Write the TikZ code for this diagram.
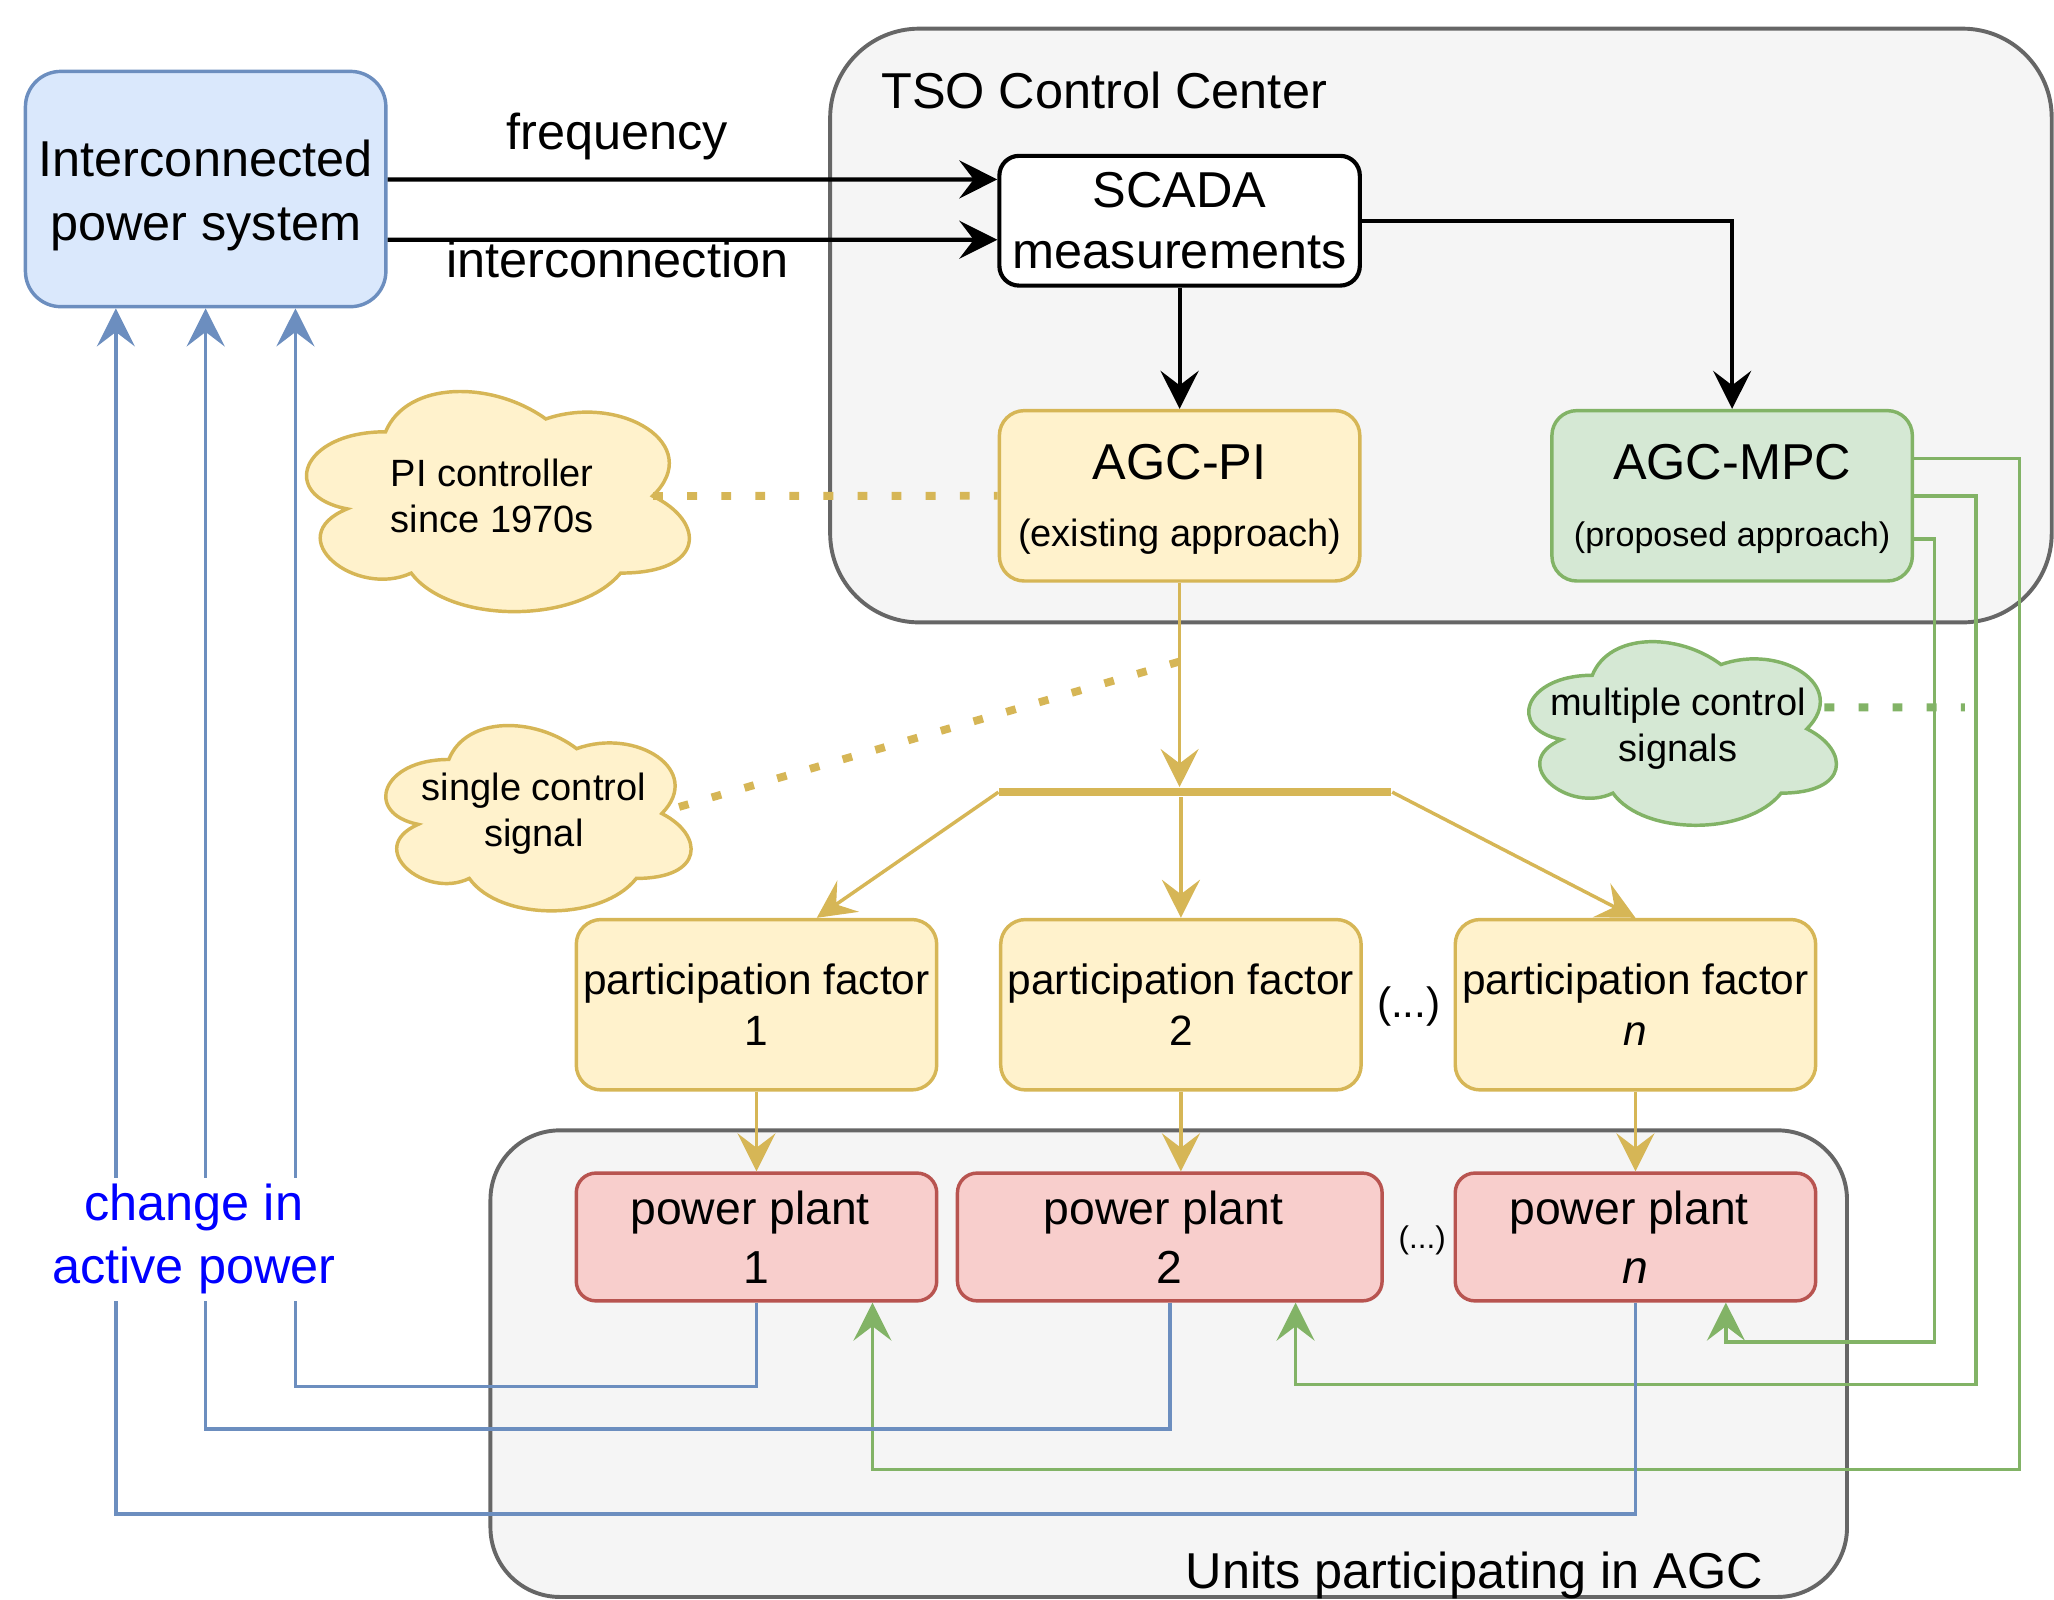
\documentclass[tikz,border=0pt]{standalone}
\usepackage{fontspec}
\setmainfont{Liberation Sans}
\usetikzlibrary{arrows.meta}

\definecolor{bluefill}{HTML}{DAE8FC}
\definecolor{blueline}{HTML}{6C8EBF}
\definecolor{yellowfill}{HTML}{FFF2CC}
\definecolor{yellowline}{HTML}{D6B656}
\definecolor{greenfill}{HTML}{D5E8D4}
\definecolor{greenline}{HTML}{82B366}
\definecolor{redfill}{HTML}{F8CECC}
\definecolor{redline}{HTML}{B85450}
\definecolor{grayfill}{HTML}{F5F5F5}
\definecolor{grayline}{HTML}{666666}
\definecolor{labelblue}{HTML}{0000FF}

\newcommand{\bigtext}{\fontsize{10.95}{13.4}\selectfont}
\newcommand{\pftext}{\fontsize{9.2}{10.95}\selectfont}
\newcommand{\pptext}{\fontsize{10.05}{12.8}\selectfont}
\newcommand{\cloudtext}{\fontsize{8.25}{9.9}\selectfont}
\newcommand{\mpctext}{\fontsize{7.4}{9}\selectfont}
\newcommand{\dotstext}{\fontsize{6.8}{8}\selectfont}

% cloud outline: left, top, width, height, colours
\newcommand{\cloudshape}[5]{%
  \draw[#5, line width=0.75pt, shift={(#1,#2)}, x=#3cm, y=-#4cm]
    (0.25,0.25) .. controls (0.05,0.25) and (0,0.5) .. (0.16,0.55)
    .. controls (0,0.66) and (0.18,0.9) .. (0.31,0.8)
    .. controls (0.4,1) and (0.7,1) .. (0.8,0.8)
    .. controls (1,0.8) and (1,0.6) .. (0.875,0.5)
    .. controls (1,0.3) and (0.8,0.1) .. (0.625,0.2)
    .. controls (0.5,0.05) and (0.3,0.05) .. (0.25,0.25) -- cycle;}

\begin{document}
\begin{tikzpicture}[x=0.01cm, y=-0.01cm]

\tikzset{box/.style = {shape=rectangle, draw, line width=0.75pt, rounded corners=0.19cm, minimum width=2.75cm, minimum height=1.3cm, align=center, inner sep=0pt}}
\tikzset{group/.style = {shape=rectangle, draw=grayline, fill=grayfill, line width=0.85pt}}
\tikzset{note/.style = {shape=rectangle, align=center, inner sep=0pt, font=\cloudtext}}
\tikzset{flow/.style = {line width=0.75pt, -{Stealth[length=0.29cm, width=0.29cm, inset=0.11cm]}}}
\tikzset{hint/.style = {line width=1.7pt, dash pattern=on 0.075cm off 0.185cm}}

\useasboundingbox (0,0) rectangle (1568,1221);

%groups
\node[group, minimum width=9.32cm, minimum height=4.53cm, rounded corners=0.68cm] (tso) at (1100,248.5) {};
\node[anchor=base west, inner sep=0pt, font=\bigtext] (tsolabel) at (672,83) {TSO Control Center};
\node[group, minimum width=10.35cm, minimum height=3.56cm, rounded corners=0.53cm] (units) at (892.2,1041) {};
\node[anchor=base west, inner sep=0pt, font=\bigtext] (unitslabel) at (904.5,1213) {Units participating in AGC};

%clouds
\cloudshape{212.8}{280.6}{3.26}{1.96}{fill=yellowfill, draw=yellowline}
\node[note, minimum width=3.26cm, minimum height=1.96cm] (pinote) at (375.8,378.6) {PI controller\\since 1970s};
\cloudshape{277.6}{538.5}{2.60}{1.65}{fill=yellowfill, draw=yellowline}
\node[note, minimum width=2.6cm, minimum height=1.65cm] (singlenote) at (407.6,621) {single control\\signal};
\cloudshape{1150}{474.6}{2.62}{1.635}{fill=greenfill, draw=greenline}
\node[note, minimum width=2.62cm, minimum height=1.635cm] (multinote) at (1281,556.4) {multiple control\\signals};

%blocks
\node[box, fill=bluefill, draw=blueline, minimum height=1.795cm, rounded corners=0.27cm, font=\fontsize{10.95}{13.9}\selectfont] (ips) at (157,144.3) {\rule{0pt}{10.6pt}Interconnected\\power system};
\node[box, draw=black, fill=white, line width=0.9pt, minimum height=0.99cm, rounded corners=0.15cm, font=\bigtext] (scada) at (900.5,168.5) {SCADA\\measurements};
\node[box, fill=yellowfill, draw=yellowline, font=\fontsize{10.95}{14.5}\selectfont] (agcpi) at (900.5,378.5) {\rule{0pt}{9pt}AGC-PI\\{\cloudtext (existing approach)}};
\node[box, fill=greenfill, draw=greenline, font=\fontsize{10.95}{14.5}\selectfont] (agcmpc) at (1322.3,378.5) {\rule{0pt}{9pt}AGC-MPC\\{\mpctext (proposed approach)}};
\node[shape=rectangle, fill=yellowline, minimum width=2.99cm, minimum height=0.064cm, inner sep=0pt] (bar) at (912.5,604.7) {};

\node[box, fill=yellowfill, draw=yellowline, font=\pftext] (pf1) at (577.5,767) {participation factor\\1};
\node[box, fill=yellowfill, draw=yellowline, font=\pftext] (pf2) at (901.5,767) {participation factor\\2};
\node[box, fill=yellowfill, draw=yellowline, font=\pftext] (pfn) at (1248.5,767) {participation factor\\\textit{n}};
\node[font=\pftext] (pfdots) at (1075.5,768) {(...)};

\node[box, fill=redfill, draw=redline, minimum height=0.975cm, rounded corners=0.15cm, font=\pptext] (pp1) at (577.5,944.3) {power plant\hphantom{\ }\\1};
\node[box, fill=redfill, draw=redline, minimum width=3.24cm, minimum height=0.975cm, rounded corners=0.15cm, font=\pptext] (pp2) at (893,944.3) {power plant\hphantom{\ }\\2};
\node[box, fill=redfill, draw=redline, minimum height=0.975cm, rounded corners=0.15cm, font=\pptext] (ppn) at (1248.5,944.3) {power plant\hphantom{\ }\\\textit{n}};
\node[font=\dotstext] (ppdots) at (1085.7,946.6) {(...)};

%measurements
\draw[flow, line width=0.9pt] ([yshift=0.073cm]ips.east) -- node[pos=0.377, yshift=0.33cm, font=\bigtext] (freqlabel) {frequency} ([yshift=0.315cm]scada.west);
\draw[flow, line width=0.9pt] ([yshift=-0.387cm]ips.east) -- node[pos=0.377, yshift=-0.15cm, font=\bigtext] (intlabel) {interconnection} ([yshift=-0.145cm]scada.west);
\draw[flow, line width=0.9pt] (scada) -- (agcpi);
\draw[flow, line width=0.9pt] (scada.east) -| (agcmpc.north);

%single signal
\draw[flow, yellowline] (agcpi) -- (agcpi |- bar.north);
\draw[flow, yellowline] (bar.west) -- ([xshift=0.46cm]pf1.north);
\draw[flow, yellowline] (pf2.north |- bar.south) -- (pf2.north);
\draw[flow, yellowline] (bar.east) -- (pfn.north);
\draw[flow, yellowline] (pf1) -- (pp1);
\draw[flow, yellowline] (pf2) -- (pf2 |- pp2.north);
\draw[flow, yellowline] (pfn) -- (ppn);

%notes
\coordinate (pitap) at (900.5,505);
\coordinate (mpctap) at (1500,540);
\draw[hint, yellowline] ([xshift=-0.41cm]pinote.east) -- (agcpi.west);
\draw[hint, yellowline] ([xshift=-0.2cm, yshift=0.05cm]singlenote.east) -- (pitap);
\draw[hint, greenline] ([xshift=-0.2cm, yshift=0.164cm]multinote.east) -- (mpctap);

%multiple signals
\draw[flow, greenline] ([yshift=0.285cm]agcmpc.east) -- ++(80.4,0) -- ++(0,771.7) -| ([xshift=0.885cm]pp1.south);
\draw[flow, greenline] (agcmpc.east) -- ++(47.4,0) -- ++(0,678.5) -| ([xshift=0.96cm]pp2.south);
\draw[flow, greenline] ([yshift=-0.331cm]agcmpc.east) -- ++(15.4,0) -- ++(0,612.9) -| ([xshift=0.69cm]ppn.south);

%active power
\draw[flow, blueline] (pp1.south) -- ++(0,64) -| ([xshift=0.685cm]ips.south);
\draw[flow, blueline] (pp2.south) -- ++(0,96.5) -| (ips.south);
\draw[flow, blueline] (ppn.south) -- ++(0,161.5) -| ([xshift=-0.685cm]ips.south);
\node[fill=white, inner sep=0.05cm, align=center, font=\fontsize{10.95}{13.6}\selectfont, text=labelblue] (powerlabel) at (148,946) {change in\\active power};

\end{tikzpicture}
\end{document}
